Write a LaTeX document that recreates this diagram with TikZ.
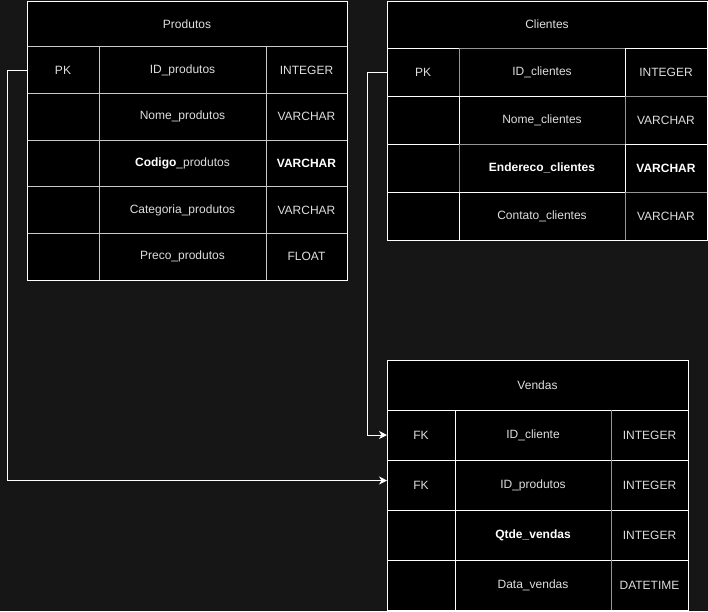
\documentclass[tikz,border=0pt]{standalone}
\usepackage{fontspec}
\setmainfont{Liberation Sans}
\usetikzlibrary{arrows.meta}
\definecolor{bgcol}{RGB}{22,22,22}
\definecolor{txtcol}{RGB}{222,222,222}
\definecolor{lgray}{RGB}{200,200,200}
\definecolor{mgray}{RGB}{150,150,150}
\newcommand\dbcell[7][white]{%
  \node[cell, draw=#1, minimum width={(#4-#3)*1pt}, minimum height={(#6-#5)*1pt}]
    (#2) at ({(#3+#4)/2},{(#5+#6)/2}) {#7};}
\begin{document}
\begin{tikzpicture}[x=1pt,y=-1pt,
  cell/.style={rectangle, fill=black, line width=1pt, inner sep=0pt, outer sep=0pt,
    text=txtcol, font=\fontsize{12}{14}\selectfont},
  bfont/.style={font=\fontsize{12}{14}\selectfont\bfseries, text=white},
  conn/.style={draw=white, line width=1pt, -{Stealth[length=8pt,width=8pt,inset=2.5pt]}}]
\fill[bgcol] (0,0) rectangle (708,611);
\useasboundingbox (0,0) rectangle (708,611);
% Produtos
\dbcell{pT}{27}{347}{1}{46.7}{Produtos}
\dbcell[lgray]{pPK}{27}{99}{46.7}{93.3}{PK}
\dbcell[lgray]{pN1}{99}{266}{46.7}{93.3}{ID\_produtos}
\dbcell[lgray]{pY1}{266}{347}{46.7}{93.3}{INTEGER}
\dbcell[lgray]{pK2}{27}{99}{93.3}{140}{}
\dbcell[lgray]{pN2}{99}{266}{93.3}{140}{Nome\_produtos}
\dbcell[lgray]{pY2}{266}{347}{93.3}{140}{VARCHAR}
\dbcell[lgray]{pK3}{27}{99}{140}{186.7}{}
\dbcell[lgray]{pN3}{99}{266}{140}{186.7}{\textbf{\color{white}Codigo}\_produtos}
\dbcell[lgray]{pY3}{266}{347}{140}{186.7}{\textbf{\color{white}VARCHAR}}
\dbcell[lgray]{pK4}{27}{99}{186.7}{233.3}{}
\dbcell[lgray]{pN4}{99}{266}{186.7}{233.3}{Categoria\_produtos}
\dbcell[lgray]{pY4}{266}{347}{186.7}{233.3}{VARCHAR}
\dbcell[lgray]{pK5}{27}{99}{233.3}{280}{}
\dbcell[lgray]{pN5}{99}{266}{233.3}{280}{Preco\_produtos}
\dbcell[lgray]{pY5}{266}{347}{233.3}{280}{FLOAT}
\draw[white, line width=1pt] (pT.north west) rectangle (pY5.south east);
% Clientes
\dbcell{cT}{387}{707}{1}{48.3}{Clientes}
\dbcell{cPK}{387}{459}{48.3}{96.3}{PK}
\dbcell[mgray]{cN1}{459}{625}{48.3}{96.3}{ID\_clientes}
\dbcell{cY1}{625}{707}{48.3}{96.3}{INTEGER}
\dbcell{cK2}{387}{459}{96.3}{144.3}{}
\dbcell{cN2}{459}{625}{96.3}{144.3}{Nome\_clientes}
\dbcell[mgray]{cY2}{625}{707}{96.3}{144.3}{VARCHAR}
\dbcell{cK3}{387}{459}{144.3}{192.3}{}
\dbcell[mgray]{cN3}{459}{625}{144.3}{192.3}{\textbf{\color{white}Endereco\_clientes}}
\dbcell{cY3}{625}{707}{144.3}{192.3}{\textbf{\color{white}VARCHAR}}
\dbcell{cK4}{387}{459}{192.3}{240}{}
\dbcell{cN4}{459}{625}{192.3}{240}{Contato\_clientes}
\dbcell[mgray]{cY4}{625}{707}{192.3}{240}{VARCHAR}
\draw[white, line width=1pt] (cT.north west) rectangle (cY4.south east);
% Vendas
\dbcell{vT}{387}{688}{360}{410}{Vendas}
\dbcell{vFK1}{387}{455}{410}{460}{FK}
\dbcell{vN1}{455}{611}{410}{460}{ID\_cliente}
\dbcell{vY1}{611}{688}{410}{460}{INTEGER}
\dbcell{vFK2}{387}{455}{460}{510}{FK}
\dbcell{vN2}{455}{611}{460}{510}{ID\_produtos}
\dbcell{vY2}{611}{688}{460}{510}{INTEGER}
\dbcell{vK3}{387}{455}{510}{560}{}
\dbcell{vN3}{455}{611}{510}{560}{\textbf{\color{white}Qtde\_vendas}}
\dbcell{vY3}{611}{688}{510}{560}{INTEGER}
\dbcell{vK4}{387}{455}{560}{610}{}
\dbcell{vN4}{455}{611}{560}{610}{Data\_vendas}
\dbcell{vY4}{611}{688}{560}{610}{DATETIME}
\draw[mgray, line width=1pt] (vN1.north east) -- (vN4.south east);
% connectors
\coordinate (vIn2) at ([yshift=4.5pt]vFK2.west);
\draw[conn] (cPK.west) -- ++(-20,0) |- (vFK1.west);
\draw[conn] (pPK.west) -- ++(-20,0) |- (vIn2);
\end{tikzpicture}
\end{document}
